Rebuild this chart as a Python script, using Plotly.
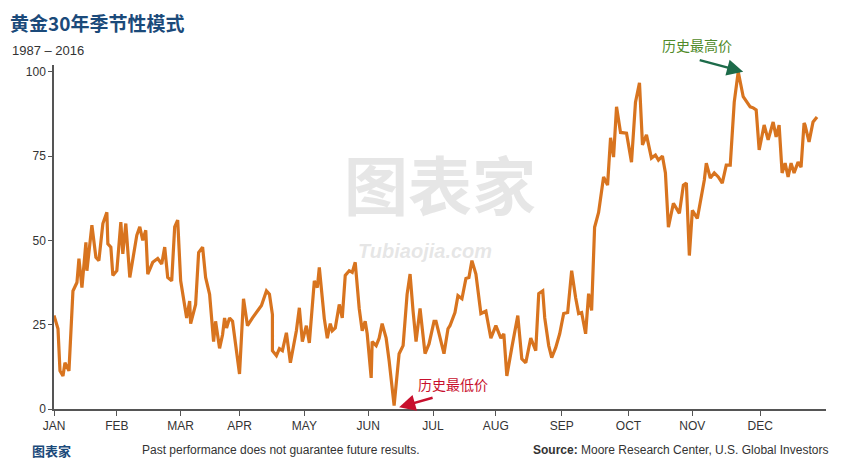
import plotly.graph_objects as go

# horizontal position along the year (0 = Jan 1, ~772 = Dec 31)
pos = [0, 4, 6, 9, 11, 15, 19, 23, 25, 28, 32, 33, 38, 42, 45, 49, 53, 54, 57, 59, 63, 67, 69, 72, 76,
       83, 86, 89, 92, 94, 99, 104, 108, 111, 114, 118, 121, 124, 127, 130, 133, 136, 137, 142, 145, 149,
       152, 156, 160, 162, 166, 169, 171, 173, 176, 179, 186, 190, 194, 199, 204, 208, 213, 216, 219, 219,
       223, 226, 229, 233, 237, 243, 246, 249, 253, 256, 261, 264, 266, 271, 274, 277, 279, 282, 286, 289,
       292, 296, 299, 302, 306, 309, 312, 314, 318, 319, 323, 326, 329, 333, 336, 341, 346, 350, 354, 357,
       360, 363, 367, 372, 376, 381, 383, 391, 395, 397, 402, 405, 409, 413, 416, 419, 423, 428, 433, 438,
       443, 448, 451, 454, 459, 465, 469, 473, 478, 483, 486, 490, 492, 496, 499, 503, 507, 511, 515, 519,
       523, 526, 529, 533, 536, 539, 542, 546, 551, 555, 558, 561, 564, 568, 574, 579, 583, 587, 590, 594,
       599, 603, 606, 610, 613, 616, 621, 627, 631, 634, 637, 640, 645, 652, 654, 658, 662, 666, 670, 674,
       678, 682, 686, 691, 698, 701, 704, 707, 712, 716, 721, 724, 727, 730, 733, 736, 739, 742, 746, 749,
       752, 753, 757, 761, 765, 767, 770, 773]
gold = [27.7, 23.8, 11.3, 9.8, 13.7, 11.3, 35, 37.5, 44.6, 36, 49.4, 41, 54.5, 45, 44, 55, 58.3, 49, 48,
        39.6, 41, 55.4, 46, 55, 39, 51.5, 54, 50, 53, 40, 43.5, 44.6, 43, 48, 39, 38, 54, 56, 38, 33, 27,
        32, 25.3, 31, 46.4, 48, 39, 34, 20, 26, 18, 22, 27, 24, 27, 26, 10.4, 32.7, 24.7, 27, 29, 30.7, 35,
        34, 28, 17.3, 15.8, 17.9, 17.3, 22.6, 13.7, 23.2, 30, 20, 24.7, 19.6, 38, 36, 42, 26.8, 21, 25.3,
        23.2, 24, 31, 27, 39.6, 41, 40.5, 43.5, 29.8, 23.2, 26, 22.3, 9.2, 20, 18.8, 21, 25.3, 21, 14.3, 1,
        16.4, 18.8, 34, 40, 29, 20, 29.8, 16.4, 19.3, 26, 26, 16.4, 23.8, 24.7, 28.6, 33.6, 32.7, 38.7, 39,
        44, 40, 28.3, 29, 21, 24.7, 21, 22.3, 9.8, 18.2, 27.7, 14.9, 13.7, 21, 17.3, 34.2, 35, 27, 18.8,
        15.2, 18.2, 22.3, 28.3, 28.6, 41, 33, 28.3, 28.6, 22.3, 34.2, 29.2, 53.9, 58.3, 68.8, 66.4, 80.4,
        74.7, 89.6, 82, 81.8, 73.2, 91, 96.7, 78.3, 81.3, 74.4, 75.3, 73.8, 75, 70, 53.9, 61, 58, 66.4, 67,
        45.5, 58.9, 56.5, 67.9, 72.9, 68.5, 70, 68.8, 67, 72.3, 72.3, 91, 100, 92.6, 89.6, 89.3, 88.7,
        76.8, 84.2, 79.8, 85.1, 80.7, 84.2, 70, 72.9, 68.8, 72.9, 70, 73.2, 71.7, 84.8, 84.2, 79.2, 85.1,
        86.6]
month_pos = [0, 63, 127, 186, 251, 315, 380, 443, 509, 576, 640, 708]
month_labels = ["JAN", "FEB", "MAR", "APR", "MAY", "JUN", "JUL", "AUG", "SEP", "OCT", "NOV", "DEC"]
y_ticks = [0, 25, 50, 75, 100]

fig = go.Figure()
fig.add_trace(go.Scatter(x=pos, y=gold, mode="lines",
                         line=dict(color="#d8741f", width=3.2), hoverinfo="skip"))

fig.update_layout(
    width=848, height=474,
    margin=dict(l=46, r=30, t=57, b=73),
    plot_bgcolor="white", paper_bgcolor="white",
    showlegend=False,
    font=dict(family="Liberation Sans, Noto Sans CJK SC", color="#333333", size=12),
)
fig.update_xaxes(range=[0, 774], tickvals=month_pos, ticktext=month_labels,
                 showgrid=False, zeroline=False, showline=True, linecolor="#555555",
                 linewidth=2, ticks="outside", tickcolor="#555555", ticklen=5)
fig.update_yaxes(range=[0, 102], tickvals=y_ticks, showgrid=False, zeroline=False,
                 showline=True, linecolor="#555555", linewidth=1.5, ticks="outside",
                 tickcolor="#555555", ticklen=4)

# watermark
fig.add_annotation(x=0.5, y=0.66, xref="paper", yref="paper", text="<b>图表家</b>",
                   showarrow=False, font=dict(size=64, color="rgba(200,200,200,0.45)",
                                              family="Noto Sans CJK SC"))
fig.add_annotation(x=0.48, y=0.46, xref="paper", yref="paper", text="<b><i>Tubiaojia.com</i></b>",
                   showarrow=False, font=dict(size=20, color="rgba(200,200,200,0.45)"))

# titles
fig.add_annotation(x=-0.06, y=1.0, xref="paper", yref="paper", yshift=43, xanchor="left",
                   yanchor="middle", text="<b>黄金30年季节性模式</b>", showarrow=False,
                   font=dict(size=19, color="#1b4a7a", family="Noto Sans CJK SC"))
fig.add_annotation(x=-0.057, y=1.0, xref="paper", yref="paper", yshift=15, xanchor="left",
                   yanchor="middle", text="1987 – 2016", showarrow=False,
                   font=dict(size=13, color="#333333"))

# callouts
fig.add_annotation(x=691, y=100, ax=-45, ay=-12, text="", showarrow=True, arrowhead=2,
                   arrowsize=1.3, arrowwidth=2.5, arrowcolor="#1d6b4a")
fig.add_annotation(x=0.785, y=1.0, xref="paper", yref="paper", yshift=20, xanchor="left",
                   yanchor="middle", text="历史最高价", showarrow=False,
                   font=dict(size=14, color="#4f8a2a", family="Noto Sans CJK SC"))
fig.add_annotation(x=346, y=0.5, ax=35, ay=-10, text="", showarrow=True, arrowhead=2,
                   arrowsize=1.3, arrowwidth=2.5, arrowcolor="#c8102e")
fig.add_annotation(x=363, y=7.5, text="历史最低价", showarrow=False, xanchor="left",
                   font=dict(size=14, color="#c8102e", family="Noto Sans CJK SC"))

# footer
fig.add_annotation(x=-0.031, y=0, xref="paper", yref="paper", yshift=-41, xanchor="left",
                   yanchor="middle", text="<b>图表家</b>", showarrow=False,
                   font=dict(size=13, color="#1b4a7a", family="Noto Sans CJK SC"))
fig.add_annotation(x=0.111, y=0, xref="paper", yref="paper", yshift=-41, xanchor="left",
                   yanchor="middle", text="Past performance does not guarantee future results.",
                   showarrow=False, font=dict(size=12, color="#333333"))
fig.add_annotation(x=1.005, y=0, xref="paper", yref="paper", yshift=-41, xanchor="right",
                   yanchor="middle",
                   text="<b>Source:</b> Moore Research Center, U.S. Global Investors",
                   showarrow=False, font=dict(size=12, color="#333333"))

fig.write_html("out.html")
